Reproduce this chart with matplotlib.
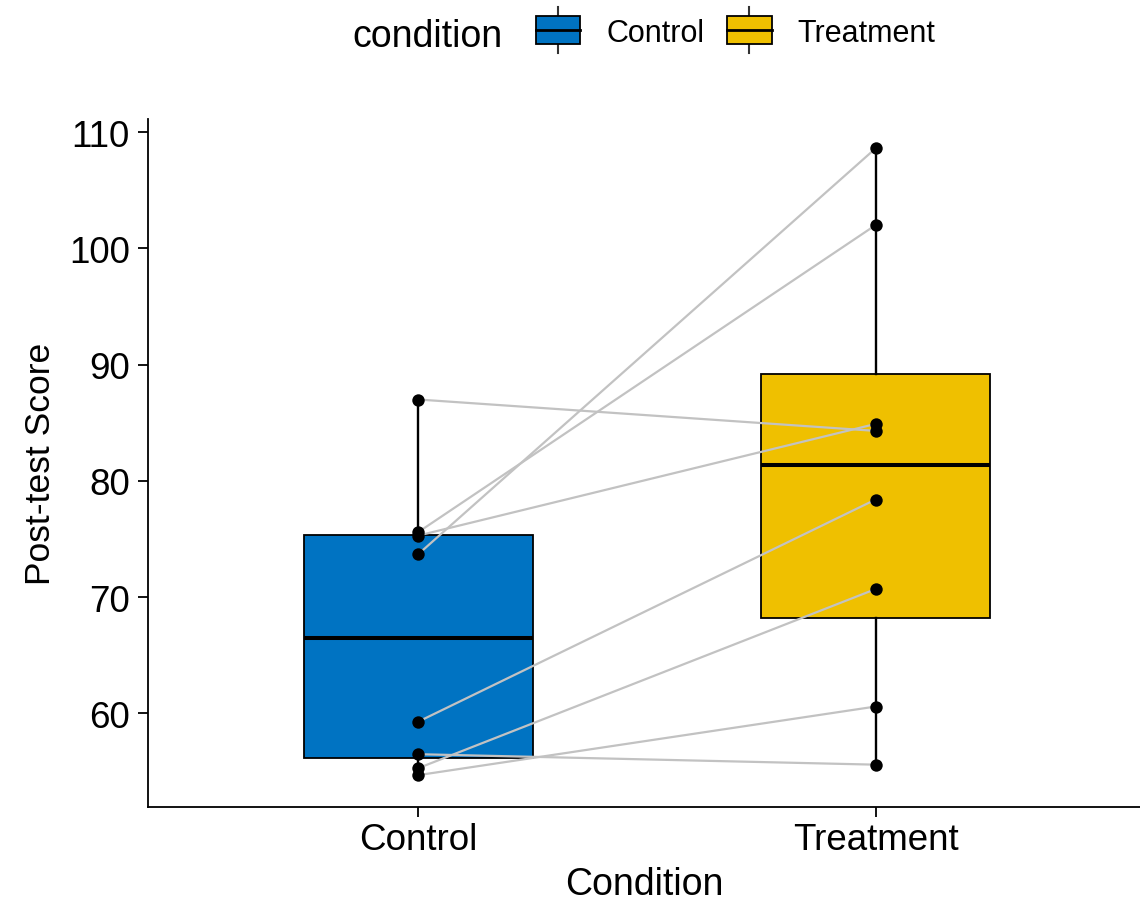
import matplotlib
matplotlib.use('Agg')
import matplotlib.pyplot as plt
from matplotlib.patches import Rectangle
from matplotlib.lines import Line2D
from matplotlib.legend_handler import HandlerBase

plt.rcParams['font.family'] = ['Liberation Sans', 'DejaVu Sans']

# ---- data ----
conditions = ['Control', 'Treatment']
control_scores = [87.0, 75.6, 75.3, 73.7, 59.3, 56.5, 55.3, 54.7]
treatment_scores = [84.3, 102.0, 84.9, 108.6, 78.4, 55.6, 70.7, 60.6]
box_colors = ['#0073C2', '#EFC000']
yticks = [60, 70, 80, 90, 100, 110]

W, H = 1140, 904
fig = plt.figure(figsize=(W / 100, H / 100), dpi=100)
ax = fig.add_axes([148 / W, (H - 808) / H, 1 - 148 / W, (808 - 120) / H])

bp = ax.boxplot([control_scores, treatment_scores], positions=[0, 1], widths=0.5,
                patch_artist=True, whis=1.5, showcaps=False, showfliers=False,
                medianprops=dict(color='black', lw=2.9),
                boxprops=dict(edgecolor='black', lw=1.3),
                whiskerprops=dict(color='black', lw=1.7), zorder=1)
for patch, c in zip(bp['boxes'], box_colors):
    patch.set_facecolor(c)

for c, t in zip(control_scores, treatment_scores):
    ax.plot([0, 1], [c, t], color='#C2C2C2', lw=1.6, zorder=2)

ax.scatter([0] * len(control_scores), control_scores, s=80, color='black', zorder=3, linewidths=0)
ax.scatter([1] * len(treatment_scores), treatment_scores, s=80, color='black', zorder=3, linewidths=0)

ax.set_xlim(-0.591, 1.578)
ax.set_ylim(51.96, 111.12)
ax.set_xticks([0, 1])
ax.set_xticklabels(conditions)
ax.set_yticks(yticks)
ax.set_yticklabels([str(v) for v in yticks])

for s in ['top', 'right']:
    ax.spines[s].set_visible(False)
for s in ['left', 'bottom']:
    ax.spines[s].set_linewidth(1.3)
ax.tick_params(direction='out', length=7, width=1.3, labelsize=26.5, colors='black')
ax.tick_params(axis='y', pad=6)
ax.tick_params(axis='x', pad=4)
ax.set_xlabel('Condition', fontsize=27, labelpad=6)
ax.set_ylabel('Post-test Score', fontsize=25.5, labelpad=9)


class BoxKey(HandlerBase):
    def create_artists(self, legend, orig_handle, xdescent, ydescent, width, height, fontsize, trans):
        x0, y0 = -xdescent, -ydescent
        fc = orig_handle.get_facecolor()
        cx = x0 + width / 2
        wl = Line2D([cx, cx], [y0 - 0.33 * height, y0 + 1.33 * height], color='#333333', lw=1.5, transform=trans)
        r = Rectangle((x0, y0), width, height, facecolor=fc, edgecolor='black', lw=1.3, transform=trans)
        m = Line2D([x0, x0 + width], [y0 + height / 2] * 2, color='black', lw=2.0, transform=trans)
        return [wl, r, m]


handles = [Rectangle((0, 0), 1, 1, facecolor=c) for c in box_colors]
fig.text(352 / W, 1 - 47 / H, 'condition', fontsize=27, ha='left', va='baseline')
fig.legend(handles, conditions, handler_map={Rectangle: BoxKey()}, loc='center left',
           bbox_to_anchor=(536 / W, 1 - 33 / H), ncol=2, frameon=False, fontsize=22,
           handlelength=1.45, handleheight=1.0, handletextpad=0.85, columnspacing=0.75,
           borderaxespad=0, borderpad=0)

fig.savefig('out.png', dpi=100)
